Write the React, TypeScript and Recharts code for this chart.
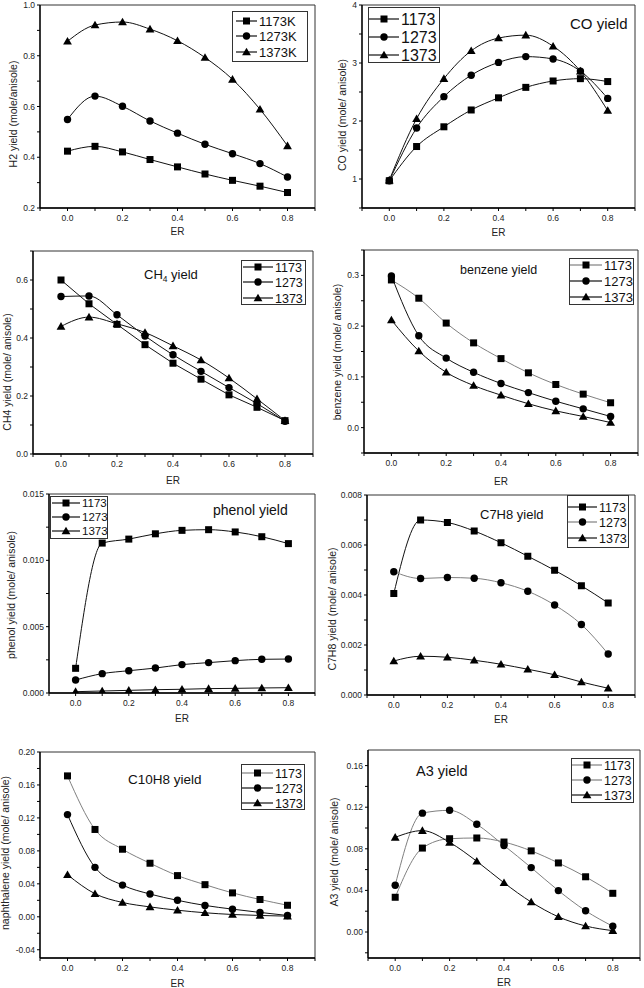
import React from "react";
import { LineChart, Line, XAxis, YAxis, ReferenceArea } from "recharts";

const FONT = '"Liberation Sans", Arial, sans-serif';

// equivalence ratio, shared by every panel
const ER = [0, 0.1, 0.2, 0.3, 0.4, 0.5, 0.6, 0.7, 0.8];
const X_TICKS = [-0.1, 0, 0.1, 0.2, 0.3, 0.4, 0.5, 0.6, 0.7, 0.8, 0.9];
const X_LABELS = [0, 0.2, 0.4, 0.6, 0.8];

const TEMPS = ["1173", "1273", "1373"];
const TEMPS_K = ["1173K", "1273K", "1373K"];

const h2_1173 = [0.424, 0.443, 0.421, 0.391, 0.362, 0.334, 0.309, 0.286, 0.261];
const h2_1273 = [0.549, 0.641, 0.601, 0.543, 0.495, 0.451, 0.414, 0.375, 0.322];
const h2_1373 = [0.857, 0.921, 0.933, 0.905, 0.859, 0.793, 0.707, 0.589, 0.445];

const co_1173 = [0.97, 1.56, 1.9, 2.19, 2.4, 2.58, 2.69, 2.73, 2.68];
const co_1273 = [0.97, 1.88, 2.42, 2.79, 3.01, 3.11, 3.07, 2.86, 2.39];
const co_1373 = [0.98, 2.04, 2.73, 3.21, 3.43, 3.48, 3.29, 2.86, 2.18];

const ch4_1173 = [0.6, 0.518, 0.447, 0.377, 0.313, 0.258, 0.204, 0.161, 0.115];
const ch4_1273 = [0.543, 0.545, 0.48, 0.407, 0.342, 0.285, 0.229, 0.174, 0.113];
const ch4_1373 = [0.44, 0.472, 0.449, 0.419, 0.373, 0.324, 0.262, 0.19, 0.115];

const bz_1173 = [0.291, 0.255, 0.206, 0.167, 0.136, 0.108, 0.085, 0.066, 0.049];
const bz_1273 = [0.299, 0.181, 0.137, 0.109, 0.087, 0.069, 0.052, 0.037, 0.022];
const bz_1373 = [0.212, 0.151, 0.109, 0.083, 0.064, 0.047, 0.033, 0.022, 0.01];

const ph_1173 = [0.00186, 0.0113, 0.0116, 0.012, 0.01226, 0.01231, 0.01214, 0.01178, 0.01126];
const ph_1273 = [0.00098, 0.00146, 0.00168, 0.00188, 0.00214, 0.00229, 0.00244, 0.00254, 0.00256];
const ph_1373 = [0.0001, 0.00015, 0.0002, 0.00025, 0.00028, 0.00033, 0.00035, 0.00038, 0.0004];

const tol_1173 = [0.00406, 0.007, 0.0069, 0.00656, 0.00609, 0.00555, 0.00499, 0.00437, 0.00368];
const tol_1273 = [0.00493, 0.00466, 0.0047, 0.00467, 0.00449, 0.00415, 0.0036, 0.00282, 0.00164];
const tol_1373 = [0.00136, 0.00155, 0.00151, 0.00139, 0.00123, 0.00103, 0.00081, 0.00052, 0.00027];

const nap_1173 = [0.171, 0.106, 0.082, 0.065, 0.05, 0.039, 0.029, 0.021, 0.014];
const nap_1273 = [0.124, 0.06, 0.0385, 0.0276, 0.02, 0.0138, 0.0093, 0.0053, 0.0016];
const nap_1373 = [0.051, 0.028, 0.0174, 0.012, 0.008, 0.0049, 0.0028, 0.0016, 0.0008];

const a3_1173 = [0.0334, 0.0807, 0.0897, 0.0904, 0.0865, 0.078, 0.0664, 0.0531, 0.0372];
const a3_1273 = [0.045, 0.1143, 0.117, 0.1036, 0.0832, 0.0619, 0.0398, 0.0204, 0.0055];
const a3_1373 = [0.091, 0.0975, 0.0862, 0.068, 0.0473, 0.0288, 0.0146, 0.0058, 0.0013];

const SHAPES = ["square", "circle", "triangle"];
const BLACK = "#111";
const GREY = "#808080";

function Marker({ cx, cy, shape }) {
  if (cx == null || cy == null) return null;
  if (shape === "square") {
    return <rect x={cx - 3.5} y={cy - 3.5} width={7} height={7} fill="#000" />;
  }
  if (shape === "circle") {
    return <circle cx={cx} cy={cy} r={3.7} fill="#000" />;
  }
  return (
    <path
      d={`M${cx},${cy - 4.3}L${cx - 4.4},${cy + 3.3}L${cx + 4.4},${cy + 3.3}Z`}
      fill="#000"
    />
  );
}

function XTick(props) {
  const { x, y, payload } = props;
  const v = payload.value;
  const major = X_LABELS.some((m) => Math.abs(m - v) < 1e-9);
  return (
    <g>
      <line x1={x} y1={y} x2={x} y2={y + 3} stroke="#000" strokeWidth={1} />
      {major && (
        <text x={x} y={y + 13} textAnchor="middle" fontSize={8.5} fontFamily={FONT} fill="#222">
          {v.toFixed(1)}
        </text>
      )}
    </g>
  );
}

function YTick(props) {
  const { x, y, payload, major, dec } = props;
  const v = payload.value;
  const isMajor = major.some((m) => Math.abs(m - v) < 1e-12);
  return (
    <g>
      <line x1={x} y1={y} x2={x - 3} y2={y} stroke="#000" strokeWidth={1} />
      {isMajor && (
        <text x={x - 5} y={y + 3} textAnchor="end" fontSize={8.5} fontFamily={FONT} fill="#222">
          {v.toFixed(dec)}
        </text>
      )}
    </g>
  );
}

const PADL = 60;
const PADT = 10;
const PADR = 10;
const PADB = 45;

function Panel({ cfg }) {
  const { rect, yDomain, yMajor, yMinor, dec, yLabel, erY, series } = cfg;
  const w = rect.r - rect.l;
  const h = rect.b - rect.t;
  const offX = rect.l - PADL;
  const offY = rect.t - PADT;
  const rows = ER.map((er, i) => ({
    er,
    a: series[0].data[i],
    b: series[1].data[i],
    c: series[2].data[i],
  }));
  const yTicks = [...yMajor, ...yMinor].sort((p, q) => p - q);
  const keys = ["a", "b", "c"];
  return (
    <div style={{ position: "absolute", left: offX, top: offY }}>
      <LineChart
        width={PADL + w + PADR}
        height={PADT + h + PADB}
        data={rows}
        margin={{ top: PADT, right: PADR, left: 0, bottom: 0 }}
      >
        <XAxis
          type="number"
          dataKey="er"
          domain={[-0.1, 0.9]}
          ticks={X_TICKS}
          interval={0}
          allowDataOverflow
          height={PADB}
          tickLine={false}
          tickSize={0}
          tickMargin={0}
          axisLine={{ stroke: "#000", strokeWidth: 1.3 }}
          tick={(p) => <XTick {...p} />}
          label={{
            content: () => (
              <text
                x={(rect.l + rect.r) / 2 - offX}
                y={erY - offY + 4}
                textAnchor="middle"
                fontSize={10}
                fontFamily={FONT}
                fill="#222"
              >
                ER
              </text>
            ),
          }}
        />
        <YAxis
          type="number"
          domain={yDomain}
          ticks={yTicks}
          interval={0}
          allowDataOverflow
          width={PADL}
          tickLine={false}
          tickSize={0}
          tickMargin={0}
          axisLine={{ stroke: "#000", strokeWidth: 1.3 }}
          tick={(p) => <YTick {...p} major={yMajor} dec={dec} />}
          label={{
            content: () => {
              const lx = yLabel.x - offX;
              const ly = yLabel.cy - offY;
              return (
                <text
                  x={lx}
                  y={ly}
                  transform={`rotate(-90, ${lx}, ${ly})`}
                  textAnchor="middle"
                  dominantBaseline="central"
                  fontSize={10.5}
                  fontFamily={FONT}
                  fill="#222"
                >
                  {yLabel.text}
                </text>
              );
            },
          }}
        />
        <ReferenceArea
          x1={-0.1}
          x2={0.9}
          y1={yDomain[0]}
          y2={yDomain[1]}
          fill="none"
          stroke="#333"
          strokeWidth={1}
          ifOverflow="visible"
        />
        {series.map((s, i) => (
          <Line
            key={keys[i]}
            dataKey={keys[i]}
            type={s.curve || "monotone"}
            stroke={s.color}
            strokeWidth={1}
            isAnimationActive={false}
            activeDot={false}
            dot={(p) => <Marker key={`${keys[i]}-${p.index}`} cx={p.cx} cy={p.cy} shape={SHAPES[i]} />}
          />
        ))}
      </LineChart>
    </div>
  );
}

function LegendBox({ cfg }) {
  const { box, rows, line, fs, names } = cfg.legend;
  return (
    <g>
      <rect x={box.x + 0.5} y={box.y + 0.5} width={box.w} height={box.h} fill="#fff" stroke="#333" strokeWidth={1} />
      {rows.map((ry, i) => (
        <g key={i}>
          <line x1={line[0]} y1={ry} x2={line[1]} y2={ry} stroke={cfg.series[i].color} strokeWidth={1.2} />
          <Marker cx={(line[0] + line[1]) / 2} cy={ry} shape={SHAPES[i]} />
          <text x={line[1] + 2} y={ry + fs * 0.36} fontSize={fs} fontFamily={FONT} fill="#111">
            {names[i]}
          </text>
        </g>
      ))}
    </g>
  );
}

const mk = (d1, d2, d3, colors, curves) => [
  { data: d1, color: colors[0], curve: curves ? curves[0] : "monotone" },
  { data: d2, color: colors[1], curve: curves ? curves[1] : "monotone" },
  { data: d3, color: colors[2], curve: curves ? curves[2] : "monotone" },
];

const PANELS = [
  {
    rect: { l: 40, t: 5, r: 315, b: 208 },
    yDomain: [0.2, 1.0],
    yMajor: [0.2, 0.4, 0.6, 0.8, 1.0],
    yMinor: [0.3, 0.5, 0.7, 0.9],
    dec: 1,
    yLabel: { text: "H2 yield (mole/anisole)", x: 13, cy: 114 },
    erY: 231,
    series: mk(h2_1173, h2_1273, h2_1373, [BLACK, BLACK, BLACK]),
    legend: { box: { x: 232, y: 11, w: 75, h: 50 }, rows: [21, 36, 52], line: [236, 257], fs: 13, names: TEMPS_K },
  },
  {
    rect: { l: 362, t: 5, r: 635, b: 208 },
    yDomain: [0.5, 4],
    yMajor: [1, 2, 3, 4],
    yMinor: [0.5, 1.5, 2.5, 3.5],
    dec: 0,
    yLabel: { text: "CO yield (mole/ anisole)", x: 342, cy: 115 },
    erY: 232,
    series: mk(co_1173, co_1273, co_1373, [BLACK, BLACK, BLACK]),
    legend: { box: { x: 368, y: 7, w: 71, h: 55 }, rows: [19, 37, 55], line: [369, 399], fs: 16, names: TEMPS },
    title: { text: "CO yield", x: 570, cy: 24, fs: 15 },
  },
  {
    rect: { l: 33, t: 251, r: 313, b: 454 },
    yDomain: [0, 0.7],
    yMajor: [0, 0.2, 0.4, 0.6],
    yMinor: [0.1, 0.3, 0.5, 0.7],
    dec: 1,
    yLabel: { text: "CH4 yield (mole/ anisole)", x: 7, cy: 372 },
    erY: 480,
    series: mk(ch4_1173, ch4_1273, ch4_1373, [BLACK, BLACK, BLACK], ["linear", "monotone", "monotone"]),
    legend: { box: { x: 241, y: 260, w: 64, h: 44 }, rows: [267, 282, 298], line: [243, 273], fs: 12.5, names: TEMPS },
    title: { text: "CH", sub: "4", rest: " yield", x: 144, cy: 274, fs: 13 },
  },
  {
    rect: { l: 364, t: 250, r: 638, b: 453 },
    yDomain: [-0.05, 0.35],
    yMajor: [0, 0.1, 0.2, 0.3],
    yMinor: [-0.05, 0.05, 0.15, 0.25, 0.35],
    dec: 1,
    yLabel: { text: "benzene yield (mole/ anisole)", x: 337, cy: 352 },
    erY: 481,
    series: mk(bz_1173, bz_1273, bz_1373, [GREY, BLACK, BLACK]),
    legend: { box: { x: 569, y: 258, w: 64, h: 46 }, rows: [265, 281, 297], line: [570, 602], fs: 13, names: TEMPS },
    title: { text: "benzene yield", x: 460, cy: 269, fs: 12.5 },
  },
  {
    rect: { l: 49, t: 494, r: 315, b: 693 },
    yDomain: [0, 0.015],
    yMajor: [0, 0.005, 0.01, 0.015],
    yMinor: [0.0025, 0.0075, 0.0125],
    dec: 3,
    yLabel: { text: "phenol yield (mole/ anisole)", x: 11, cy: 595 },
    erY: 718,
    series: mk(ph_1173, ph_1273, ph_1373, [BLACK, BLACK, BLACK]),
    legend: { box: { x: 50, y: 496, w: 57, h: 42 }, rows: [503, 517, 531], line: [52, 80], fs: 11.5, names: TEMPS },
    title: { text: "phenol yield", x: 213, cy: 510, fs: 14 },
  },
  {
    rect: { l: 367, t: 495, r: 635, b: 695 },
    yDomain: [0, 0.008],
    yMajor: [0, 0.002, 0.004, 0.006, 0.008],
    yMinor: [0.001, 0.003, 0.005, 0.007],
    dec: 3,
    yLabel: { text: "C7H8 yield (mole/ anisole)", x: 332, cy: 609 },
    erY: 719,
    series: mk(tol_1173, tol_1273, tol_1373, [BLACK, GREY, BLACK]),
    legend: { box: { x: 567, y: 495, w: 61, h: 52 }, rows: [507, 522, 538], line: [568, 597], fs: 12.5, names: TEMPS },
    title: { text: "C7H8 yield", x: 480, cy: 514, fs: 13 },
  },
  {
    rect: { l: 40, t: 752, r: 315, b: 958 },
    yDomain: [-0.05, 0.2],
    yMajor: [-0.04, 0, 0.04, 0.08, 0.12, 0.16, 0.2],
    yMinor: [-0.02, 0.02, 0.06, 0.1, 0.14, 0.18],
    dec: 2,
    yLabel: { text: "naphthalene yield (mole/ anisole)", x: 5, cy: 853 },
    erY: 983,
    series: mk(nap_1173, nap_1273, nap_1373, [GREY, BLACK, BLACK]),
    legend: { box: { x: 241, y: 764, w: 63, h: 45 }, rows: [773, 788, 803], line: [242, 273], fs: 12.5, names: TEMPS },
    title: { text: "C10H8 yield", x: 128, cy: 779, fs: 13.5 },
  },
  {
    rect: { l: 368, t: 750, r: 640, b: 958 },
    yDomain: [-0.025, 0.175],
    yMajor: [0, 0.04, 0.08, 0.12, 0.16],
    yMinor: [-0.02, 0.02, 0.06, 0.1, 0.14],
    dec: 2,
    yLabel: { text: "A3 yield (mole/ anisole)", x: 334, cy: 852 },
    erY: 982,
    series: mk(a3_1173, a3_1273, a3_1373, [GREY, GREY, BLACK]),
    legend: { box: { x: 571, y: 758, w: 62, h: 44 }, rows: [765, 780, 795], line: [572, 602], fs: 12.5, names: TEMPS },
    title: { text: "A3 yield", x: 416, cy: 771, fs: 14.5 },
  },
];

export default function App() {
  return (
    <div
      style={{
        position: "absolute",
        left: 0,
        top: 0,
        width: 644,
        height: 988,
        background: "#fff",
        overflow: "hidden",
      }}
    >
      {PANELS.map((cfg, i) => (
        <Panel key={i} cfg={cfg} />
      ))}
      <svg width={644} height={988} style={{ position: "absolute", left: 0, top: 0, pointerEvents: "none" }}>
        {PANELS.map((cfg, i) => (
          <g key={i}>
            <LegendBox cfg={cfg} />
            {cfg.title && (
              <text
                x={cfg.title.x}
                y={cfg.title.cy + cfg.title.fs * 0.36}
                fontSize={cfg.title.fs}
                fontFamily={FONT}
                fill="#111"
              >
                {cfg.title.text}
                {cfg.title.sub && (
                  <tspan fontSize={cfg.title.fs * 0.65} dy={3}>
                    {cfg.title.sub}
                  </tspan>
                )}
                {cfg.title.rest && <tspan dy={-3}>{cfg.title.rest}</tspan>}
              </text>
            )}
          </g>
        ))}
      </svg>
    </div>
  );
}
